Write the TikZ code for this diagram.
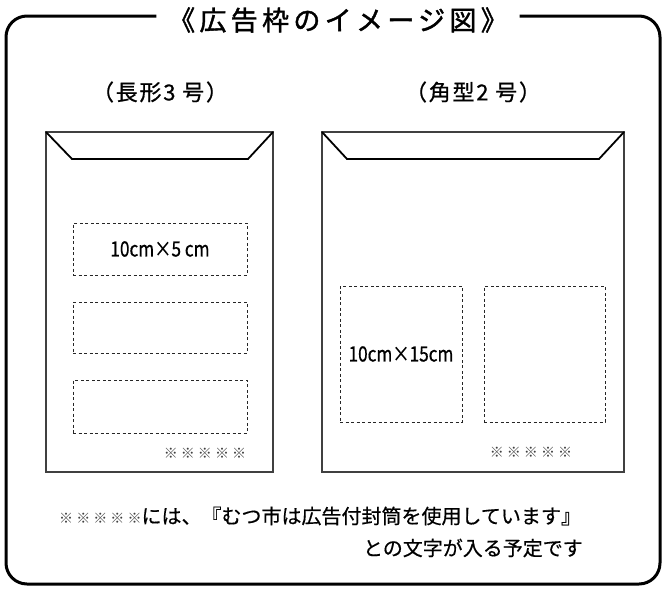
\documentclass[tikz,border=0pt]{standalone}
\usepackage{fontspec}
\newfontfamily\jpfont[FakeBold=0.5]{Noto Sans CJK JP}
\newfontfamily\jpsize[FakeBold=0.5,FakeStretch=0.82]{Noto Sans CJK JP}
\newfontfamily\jplabel[FakeBold=0.8,LetterSpace=8]{Noto Sans CJK JP}
\newfontfamily\jptitle[FakeBold=1.5,LetterSpace=16]{Noto Sans CJK JP}
\newfontfamily\jpmark[LetterSpace=22]{Noto Sans CJK JP}

\begin{document}
\begin{tikzpicture} [x=1pt, y=-1pt]
\tikzstyle{every node}=[font=\jpfont, inner sep=0pt];
\tikzstyle{frame}=[line width=3pt, rounded corners=21pt];
\tikzstyle{envelope}=[draw=black!75, line width=1.3pt];
\tikzstyle{flap}=[line width=1.8pt];
\tikzstyle{adbox}=[draw=black!85, line width=0.8pt, dash pattern=on 3pt off 2.5pt];
\tikzstyle{marks}=[font=\jpmark\fontsize{14}{14}\selectfont, text=black!75];
\useasboundingbox (0,0) rectangle (665,590);

% title and outer frame
\node [fill=white, minimum width=363pt, minimum height=30pt,
  font=\jptitle\fontsize{27}{27}\selectfont] (title) at (338,20) {《広告枠のイメージ図》};
\draw [frame] (title.west |- 0,16) -- (6,16) -- (6,584) -- (660,584) -- (660,16) -- (title.east |- 0,16);

% envelope labels
\node [font=\jplabel\fontsize{22}{22}\selectfont] (lname) at (160,92) {（長形3 号）};
\node [font=\jplabel\fontsize{22}{22}\selectfont] (rname) at (473,92) {（角型2 号）};

% left envelope
\draw [envelope] (46,132) rectangle (273,472);
\draw [flap] (46,132) -- (72,159) -- (248,159) -- (273,132);
\node [adbox, minimum width=174pt, minimum height=52pt,
  font=\jpsize\fontsize{21}{21}\selectfont] (l1) at (160,249) {10cm×5 cm};
\node [adbox, minimum width=174pt, minimum height=51pt] (l2) at (160,327.5) {};
\node [adbox, minimum width=174pt, minimum height=53pt] (l3) at (160,406.5) {};
\node [marks] (lmark) at (205,453) {※※※※※};

% right envelope
\draw [envelope] (322,132) rectangle (624,472);
\draw [flap] (322,132) -- (347,159) -- (599,159) -- (624,132);
\node [adbox, minimum width=122pt, minimum height=136pt] (r1) at (401,354) {};
\node [font=\jpsize\fontsize{21}{21}\selectfont] (rtext) at (r1) {10cm×15cm};
\node [adbox, minimum width=121pt, minimum height=136pt] (r2) at (544.5,354) {};
\node [marks] (rmark) at (531,452) {※※※※※};

% note below
\node [font=\jpfont\fontsize{20}{20}\selectfont, anchor=west] (note1) at (59,516)
  {\textcolor{black!75}{\jpmark\fontsize{14}{14}\selectfont ※※※※※}には、『むつ市は広告付封筒を使用しています』};
\node [font=\jpfont\fontsize{20}{20}\selectfont, anchor=east] (note2) at (583,548) {との文字が入る予定です};
%\draw (note1) -- (note2);
\end{tikzpicture}
\end{document}
